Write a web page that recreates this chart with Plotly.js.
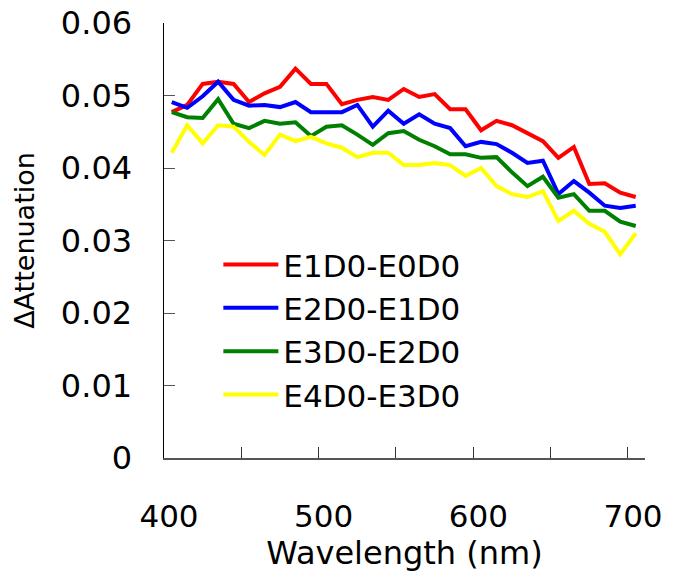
<!DOCTYPE html>
<html>
<head>
<meta charset="utf-8">
<script src="https://cdn.plot.ly/plotly-3.0.1.min.js"></script>
<style>html,body{margin:0;padding:0;background:#fff;}#chart{width:675px;height:575px;}</style>
</head>
<body>
<div id="chart"></div>
<script>
// Wavelength (nm)
const wavelength = [405,415,425,435,445,455,465,475,485,495,505,515,525,535,545,555,565,575,585,595,605,615,625,635,645,655,665,675,685,695,705];

const seriesNames = ["E1D0-E0D0", "E2D0-E1D0", "E3D0-E2D0", "E4D0-E3D0"];

const e1e0 = [0.0477,0.0487,0.0516,0.0519,0.0516,0.0491,0.0503,0.0512,0.0537,0.0516,0.0516,0.0488,0.0494,0.0498,0.0494,0.0509,0.0498,0.0502,0.0481,0.0481,0.0452,0.0465,0.0459,0.0448,0.0437,0.0414,0.0429,0.0378,0.0379,0.0366,0.0360];
const e2e1 = [0.0491,0.0483,0.0499,0.0519,0.0494,0.0486,0.0487,0.0484,0.0491,0.0477,0.0477,0.0477,0.0487,0.0457,0.0479,0.0461,0.0474,0.0461,0.0455,0.0430,0.0436,0.0433,0.0421,0.0407,0.0410,0.0364,0.0382,0.0366,0.0348,0.0345,0.0348];
const e3e2 = [0.0477,0.0470,0.0469,0.0495,0.0461,0.0455,0.0465,0.0461,0.0463,0.0444,0.0457,0.0459,0.0446,0.0432,0.0448,0.0451,0.0439,0.0430,0.0419,0.0419,0.0414,0.0415,0.0394,0.0375,0.0388,0.0359,0.0364,0.0341,0.0341,0.0326,0.0320];
const e4e3 = [0.0421,0.0459,0.0434,0.0459,0.0457,0.0436,0.0418,0.0446,0.0437,0.0443,0.0434,0.0428,0.0415,0.0421,0.0421,0.0404,0.0404,0.0407,0.0404,0.0389,0.0400,0.0375,0.0364,0.0360,0.0368,0.0327,0.0341,0.0323,0.0312,0.0281,0.0310];

const xTickVals = [400, 500, 600, 700];
const yTickVals = [0, 0.01, 0.02, 0.03, 0.04, 0.05, 0.06];

const allSeries = [e1e0, e2e1, e3e2, e4e3];
const colors = ["#ff0000", "#0000ff", "#008000", "#ffff00"];

const FONT = "'DejaVu Sans', sans-serif";

const traces = allSeries.map((ys, i) => ({
  x: wavelength,
  y: ys,
  name: seriesNames[i],
  type: "scatter",
  mode: "lines",
  line: {color: colors[i], width: 4}
}));

const layout = {
  width: 675,
  height: 575,
  margin: {l: 164, r: 30, t: 23, b: 117, pad: 0},
  paper_bgcolor: "#ffffff",
  plot_bgcolor: "#ffffff",
  font: {family: FONT, color: "#000000", size: 32},
  showlegend: true,
  legend: {
    x: 0.113, y: 0.506, xanchor: "left", yanchor: "top",
    bgcolor: "rgba(0,0,0,0)",
    font: {family: FONT, size: 31, color: "#000000"},
    tracegroupgap: 0,
    itemwidth: 55
  },
  xaxis: {
    range: [400, 711],
    tickvals: xTickVals,
    ticks: "inside",
    ticklen: 11,
    tickwidth: 1,
    tickcolor: "#333333",
    ticklabelstandoff: 30,
    ticklabelshift: 5,
    tickfont: {family: FONT, size: 31, color: "#000000"},
    minor: {dtick: 50, tick0: 400, ticks: "inside", ticklen: 11, tickwidth: 1, tickcolor: "#333333", showgrid: false},
    showline: true,
    linecolor: "#555555",
    linewidth: 1.5,
    showgrid: false,
    zeroline: false,
    automargin: false,
    title: {text: "Wavelength (nm)", font: {family: FONT, size: 32, color: "#000000"}, standoff: 8}
  },
  yaxis: {
    range: [0, 0.06],
    tickvals: yTickVals,
    ticks: "inside",
    ticklen: 11,
    tickwidth: 1,
    tickcolor: "#555555",
    ticklabelstandoff: 24,
    tickfont: {family: FONT, size: 32, color: "#000000"},
    showline: true,
    linecolor: "#000000",
    linewidth: 1.5,
    showgrid: false,
    zeroline: false,
    automargin: false,
    title: {text: "ΔAttenuation", font: {family: FONT, size: 27, color: "#000000"}, standoff: 18}
  }
};

Plotly.newPlot("chart", traces, layout, {displayModeBar: false, staticPlot: true});
</script>
</body>
</html>
